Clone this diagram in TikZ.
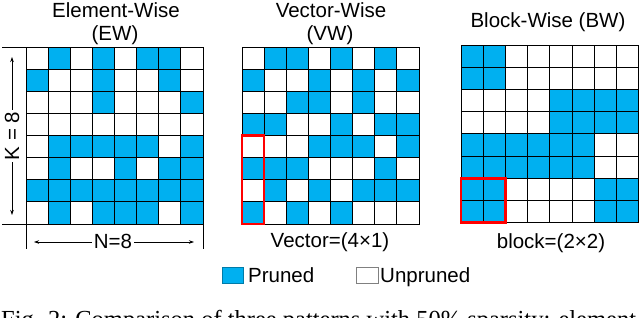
\documentclass[tikz,border=0pt]{standalone}
\usepackage{fontspec}
\setmainfont{Liberation Sans}
\newfontfamily\capfont{Liberation Serif}
\usetikzlibrary{arrows.meta}
\definecolor{prn}{HTML}{00B0F0}
\tikzset{
  lbl/.style={font=\fontsize{20.5}{23}\selectfont, inner sep=0pt, anchor=base},
  gridline/.style={draw=black, line width=1pt, line cap=rect},
  redbox/.style={draw=red, line width=2.6pt},
  dimline/.style={line width=0.8pt},
  dimarrow/.style={line width=0.8pt, {Stealth[length=5pt,width=3.5pt]}-{Stealth[length=5pt,width=3.5pt]}}
}
\newcommand\patgrid[4]{%
  \begin{scope}[shift={(#1,#2)}]
  \foreach \row [count=\r from 0] in {#4} {
    \foreach \v [count=\c from 0] in \row {
      \ifnum\v=1 \fill[prn] (\c*#3,\r*#3) rectangle ++(#3,#3);\fi
    }
  }
  \foreach \i in {0,...,8} {
    \draw[gridline] (\i*#3,0) -- (\i*#3,8*#3);
    \draw[gridline] (0,\i*#3) -- (8*#3,\i*#3);
  }
  \end{scope}}
\begin{document}
\begin{tikzpicture}[x=1pt,y=-1pt]
\useasboundingbox (0,0) rectangle (640,317);
\clip (0,0) rectangle (640,317);
\fill[white] (0,0) rectangle (640,317);

% Element-wise
\patgrid{26}{47}{22.125}{{0,1,0,1,0,1,1,0},{1,0,0,1,0,0,1,0},{0,0,0,1,0,0,0,1},{0,0,0,0,0,0,0,0},{0,1,1,1,1,1,0,1},{0,1,0,0,1,0,1,1},{1,1,1,1,1,1,1,1},{0,1,0,1,1,1,0,1}}
% Vector-wise
\patgrid{242}{47}{22.125}{{0,1,1,0,1,0,1,0},{1,0,0,1,0,1,0,1},{0,0,1,1,0,1,0,0},{1,1,0,0,1,0,1,1},{0,0,0,1,1,1,0,1},{1,1,1,0,0,0,1,0},{0,1,0,1,0,1,1,1},{1,0,1,0,1,0,0,0}}
% Block-wise
\patgrid{461}{45}{22.2}{{1,1,0,0,0,0,0,0},{1,1,0,0,0,0,0,0},{0,0,0,0,1,1,1,1},{0,0,0,0,1,1,1,1},{1,1,1,1,1,1,0,0},{1,1,1,1,1,1,0,0},{1,1,0,0,0,0,1,1},{1,1,0,0,0,0,1,1}}

% red highlight boxes
\draw[redbox] (242,135.5) rectangle (264.125,224);
\draw[redbox] (461,178.2) rectangle (505.4,222.6);

% titles
\node[lbl] (t1a) at (116,17) {Element-Wise};
\node[lbl] (t1b) at (115,40) {(EW)};
\node[lbl] (t2a) at (331,17) {Vector-Wise};
\node[lbl] (t2b) at (330,40) {(VW)};
\node[lbl] (t3) at (548,27) {Block-Wise (BW)};

% dimension lines
\coordinate (kt0) at (2,47);
\coordinate (kt1) at (26,47);
\coordinate (kb0) at (2,224);
\coordinate (kb1) at (26,224);
\coordinate (nl0) at (26,224);
\coordinate (nl1) at (26,249);
\coordinate (nr0) at (203,224);
\coordinate (nr1) at (203,249);
\draw[dimline] (kt0) -- (kt1);
\draw[dimline] (kb0) -- (kb1);
\draw[dimline] (nl0) -- (nl1);
\draw[dimline] (nr0) -- (nr1);
\coordinate (ka) at (12,57);
\coordinate (kb) at (12,215);
\draw[dimarrow] (ka) -- (kb);
\node[lbl, anchor=center, rotate=90, fill=white, inner sep=1.5pt] (klab) at (12,136) {K = 8};
\coordinate (na) at (34,242);
\coordinate (nb) at (194,242);
\draw[dimarrow] (na) -- (nb);
\node[lbl, fill=white, inner xsep=1.5pt, inner ysep=0pt] (nlab) at (113,248) {N=8};

% bottom labels
\node[lbl] (v1) at (330,247) {Vector=(4×1)};
\node[lbl] (b1) at (551,248) {block=(2×2)};

% legend
\draw[fill=prn, draw=prn!70!black, line width=0.6pt] (222,267) rectangle (243,283);
\node[lbl, anchor=base west] (lp) at (248,282) {Pruned};
\draw[fill=white, draw=gray, line width=0.8pt] (356,267) rectangle (378,283);
\node[lbl, anchor=base west] (lu) at (380,282) {Unpruned};

% cropped caption (cut by the figure's lower edge, as in the reference)
\node[inner sep=0pt, anchor=base west, font=\capfont\fontsize{24.5}{26}\selectfont] (cap) at (1,327) {Fig. 2: Comparison of three patterns with 50\% sparsity: element-wise};
\end{tikzpicture}
\end{document}
